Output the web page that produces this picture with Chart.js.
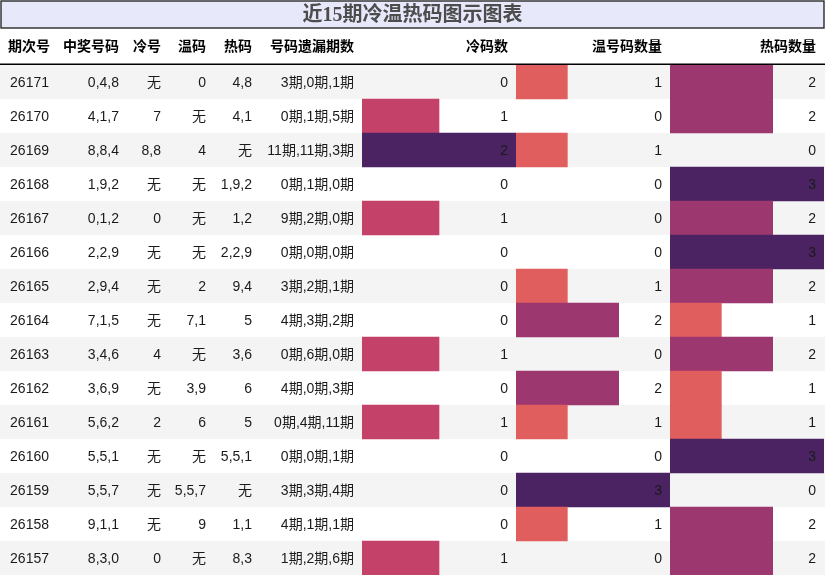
<!DOCTYPE html>
<html>
<head>
<meta charset="utf-8">
<script src="https://cdn.jsdelivr.net/npm/chart.js@4.4.1/dist/chart.umd.min.js"></script>
<style>
  html, body { margin: 0; padding: 0; background: #ffffff; }
  #c { display: block; }
</style>
</head>
<body>
<canvas id="c" width="825" height="576"></canvas>
<script>
// ---------------- DATA ----------------
const titleText = '近15期冷温热码图示图表';
const headers = ['期次号', '中奖号码', '冷号', '温码', '热码', '号码遗漏期数', '冷码数', '温号码数量', '热码数量'];
const periods = ['26171','26170','26169','26168','26167','26166','26165','26164','26163','26162','26161','26160','26159','26158','26157'];
const winning = ['0,4,8','4,1,7','8,8,4','1,9,2','0,1,2','2,2,9','2,9,4','7,1,5','3,4,6','3,6,9','5,6,2','5,5,1','5,5,7','9,1,1','8,3,0'];
const coldNums = ['无','7','8,8','无','0','无','无','无','4','无','2','无','无','无','0'];
const warmNums = ['0','无','4','无','无','无','2','7,1','无','3,9','6','无','5,5,7','9','无'];
const hotNums  = ['4,8','4,1','无','1,9,2','1,2','2,2,9','9,4','5','3,6','6','5','5,5,1','无','1,1','8,3'];
const missing  = ['3期,0期,1期','0期,1期,5期','11期,11期,3期','0期,1期,0期','9期,2期,0期','0期,0期,0期','3期,2期,1期','4期,3期,2期','0期,6期,0期','4期,0期,3期','0期,4期,11期','0期,0期,1期','3期,3期,4期','4期,1期,1期','1期,2期,6期'];
const coldCount = [0,1,2,0,1,0,0,0,1,0,1,0,0,0,1];
const warmCount = [1,0,1,0,0,0,1,2,0,2,1,0,3,1,0];
const hotCount  = [2,2,0,3,2,3,2,1,2,1,1,3,0,2,2];

// ---------------- STYLE ----------------
const FONT = '"Liberation Sans", Arial, "Noto Sans CJK SC", sans-serif';
const TITLE_FONT = 'bold 20px "Liberation Serif", "Noto Sans CJK SC", serif';
// colormap stops (t, r, g, b)
const cmap = [[0, 250, 190, 150], [1/3, 224, 94, 94], [0.5, 196, 66, 106], [2/3, 156, 55, 111], [1, 75, 35, 98]];
function cmapColor(t) {
  for (let i = 1; i < cmap.length; i++) {
    if (t <= cmap[i][0]) {
      const a = cmap[i-1], b = cmap[i];
      const f = (t - a[0]) / (b[0] - a[0]);
      const r = Math.round(a[1] + (b[1]-a[1])*f), g = Math.round(a[2] + (b[2]-a[2])*f), bl = Math.round(a[3] + (b[3]-a[3])*f);
      return `rgb(${r},${g},${bl})`;
    }
  }
  return 'rgb(75,35,98)';
}
function colorFor(arr) {
  const mx = Math.max(...arr);
  return (ctx) => ctx.raw > 0 ? cmapColor(ctx.raw / mx) : 'rgba(0,0,0,0)';
}

// text column anchors on the text axis (px offsets inside the text area), right aligned
const textCols = [
  { src: periods, header: 0, right: 49, hright: 50 },
  { src: winning, header: 1, right: 119, hright: 119 },
  { src: coldNums, header: 2, right: 161, hright: 161 },
  { src: warmNums, header: 3, right: 206, hright: 206 },
  { src: hotNums, header: 4, right: 252, hright: 252 },
  { src: missing, header: 5, right: 354, hright: 354 },
];

const tablePlugin = {
  id: 'tablePlugin',
  beforeDatasetsDraw(chart) {
    const { ctx } = chart;
    const y = chart.scales.y;
    const W = chart.width;
    ctx.save();
    // title box
    ctx.fillStyle = '#e7e9fb';
    ctx.fillRect(1, 1, W - 2, 27);
    ctx.strokeStyle = '#1a1a1a';
    ctx.lineWidth = 1.3;
    ctx.strokeRect(1, 1, W - 2, 27);
    ctx.fillStyle = '#4d4d4d';
    ctx.font = TITLE_FONT;
    ctx.textAlign = 'center';
    ctx.textBaseline = 'middle';
    ctx.fillText(titleText, W / 2, 16);
    // row backgrounds
    const half = (y.getPixelForValue(1) - y.getPixelForValue(0)) / 2;
    periods.forEach((p, i) => {
      const cy = y.getPixelForValue(i);
      ctx.fillStyle = i % 2 === 0 ? '#f4f4f4' : '#ffffff';
      ctx.fillRect(0, cy - half, W, half * 2);
    });
    // header line
    ctx.strokeStyle = '#000000';
    ctx.lineWidth = 1.5;
    ctx.beginPath();
    ctx.moveTo(0, y.top - 0.75);
    ctx.lineTo(W, y.top - 0.75);
    ctx.stroke();
    ctx.restore();
  },
  afterDatasetsDraw(chart) {
    const { ctx } = chart;
    const y = chart.scales.y;
    const xt = chart.scales.xt;
    ctx.save();
    ctx.textBaseline = 'middle';
    ctx.textAlign = 'right';
    const hy = (29 + y.top) / 2;
    // headers
    ctx.fillStyle = '#000000';
    ctx.font = 'bold 14px ' + FONT;
    textCols.forEach(c => ctx.fillText(headers[c.header], xt.getPixelForValue(c.hright), hy));
    const barCols = [['xc', coldCount, 6], ['xw', warmCount, 7], ['xh', hotCount, 8]];
    barCols.forEach(([id, arr, h]) => ctx.fillText(headers[h], chart.scales[id].right - 8, hy));
    // body
    ctx.fillStyle = '#1a1a1a';
    ctx.font = '14px ' + FONT;
    periods.forEach((p, i) => {
      const cy = y.getPixelForValue(i) + 1;
      textCols.forEach(c => ctx.fillText(c.src[i], xt.getPixelForValue(c.right), cy));
      barCols.forEach(([id, arr]) => ctx.fillText(String(arr[i]), chart.scales[id].right - 8, cy));
    });
    ctx.restore();
  }
};

const barBase = { grouped: false, barPercentage: 1, categoryPercentage: 1, borderWidth: 0, yAxisID: 'y' };

new Chart(document.getElementById('c'), {
  type: 'bar',
  data: {
    labels: periods,
    datasets: [
      Object.assign({ label: headers[6], data: coldCount, xAxisID: 'xc', backgroundColor: colorFor(coldCount) }, barBase),
      Object.assign({ label: headers[7], data: warmCount, xAxisID: 'xw', backgroundColor: colorFor(warmCount) }, barBase),
      Object.assign({ label: headers[8], data: hotCount, xAxisID: 'xh', backgroundColor: colorFor(hotCount) }, barBase),
    ]
  },
  options: {
    indexAxis: 'y',
    responsive: false,
    animation: false,
    devicePixelRatio: 1,
    layout: { padding: { top: 65, bottom: 1, left: 0, right: 1 } },
    plugins: { legend: { display: false }, tooltip: { enabled: false }, title: { display: false } },
    scales: {
      y: { type: 'category', display: false, offset: true },
      xt: { type: 'linear', display: false, position: 'bottom', stack: 'row', stackWeight: 362, min: 0, max: 362 },
      xc: { type: 'linear', display: false, position: 'bottom', stack: 'row', stackWeight: 154, min: 0, max: Math.max(...coldCount) },
      xw: { type: 'linear', display: false, position: 'bottom', stack: 'row', stackWeight: 154, min: 0, max: Math.max(...warmCount) },
      xh: { type: 'linear', display: false, position: 'bottom', stack: 'row', stackWeight: 154, min: 0, max: Math.max(...hotCount) },
    }
  },
  plugins: [tablePlugin]
});
</script>
</body>
</html>
